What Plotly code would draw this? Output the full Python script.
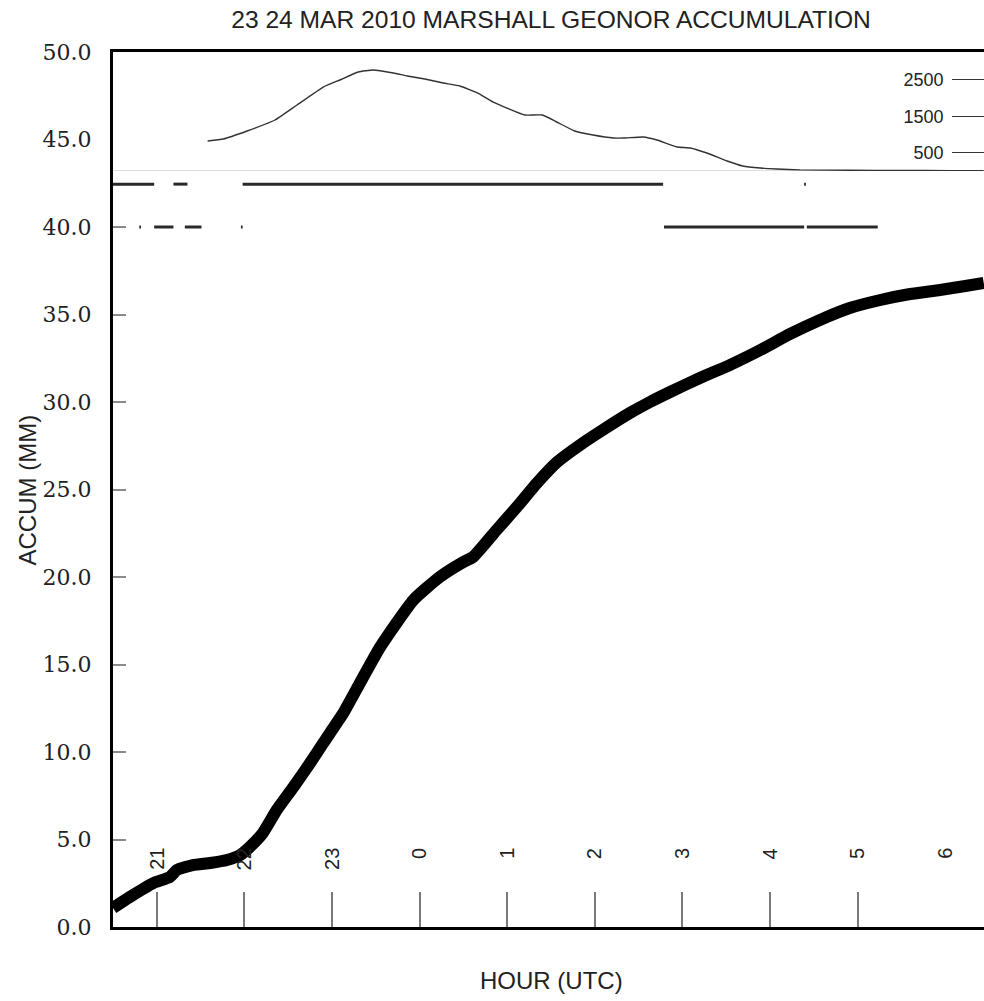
import plotly.graph_objects as go

# ---- data (hours are continuous: 24 = 0 UTC on 24 Mar) ----
accum_hours = [20.50, 20.69, 20.96, 21.15, 21.23, 21.41, 21.61, 21.80, 21.95, 22.06,
               22.21, 22.37, 22.56, 22.75, 22.90, 23.13, 23.21, 23.55, 23.93, 24.23,
               24.50, 24.61, 24.88, 25.11, 25.34, 25.57, 25.83, 26.09, 26.40, 26.63,
               26.86, 27.20, 27.54, 27.89, 28.23, 28.57, 28.91, 29.26, 29.60, 29.94,
               30.23, 30.44]
accum_mm = [1.09, 1.71, 2.51, 2.86, 3.26, 3.54, 3.66, 3.83, 4.11, 4.57,
            5.37, 6.69, 8.00, 9.37, 10.51, 12.23, 12.95, 16.00, 18.69, 20.00,
            20.86, 21.14, 22.69, 24.00, 25.37, 26.57, 27.54, 28.40, 29.37, 30.00,
            30.57, 31.37, 32.11, 32.97, 33.89, 34.69, 35.37, 35.83, 36.17, 36.40,
            36.63, 36.80]

top_hours = [21.58, 21.76, 22.03, 22.35, 22.60, 22.90, 23.09, 23.30, 23.47, 23.70,
             23.86, 24.06, 24.27, 24.46, 24.66, 24.84, 25.20, 25.40, 25.77, 25.98,
             26.21, 26.34, 26.55, 26.71, 26.94, 27.09, 27.28, 27.51, 27.69, 27.89,
             28.08, 28.34, 28.91, 29.48, 30.06, 30.44]
top_vals = [824, 879, 1099, 1401, 1813, 2307, 2500, 2720, 2774, 2692,
            2610, 2527, 2417, 2335, 2143, 1895, 1538, 1538, 1099, 989,
            907, 907, 934, 852, 659, 632, 494, 275, 137, 82,
            55, 30, 20, 15, 10, 10]

# indicator rows (start, end) in hours
row1_level = 42.45
row1_segments = [(20.50, 20.97), (21.19, 21.35), (21.98, 26.78), (28.39, 28.41)]
row2_level = 40.0
row2_segments = [(20.80, 20.82), (20.97, 21.19), (21.32, 21.51), (21.96, 21.98),
                 (26.79, 28.39), (28.42, 29.23)]

hour_ticks = [21, 22, 23, 24, 25, 26, 27, 28, 29, 30]
hour_labels = ['21', '22', '23', '0', '1', '2', '3', '4', '5', '6']
y_ticks = [0, 5, 10, 15, 20, 25, 30, 35, 40, 45, 50]
top_ticks = [500, 1500, 2500]
top_labels = ['500', '1500', '2500']

x_range = [20.5, 30.443]
y_range = [0, 50]
top_range = [0, 3269]

fig = go.Figure()

# separator (zero of the upper scale)
fig.add_trace(go.Scatter(x=x_range, y=[0, 0], yaxis='y2', mode='lines',
                         line=dict(color='#bdbdbd', width=1), hoverinfo='skip'))
# upper curve
fig.add_trace(go.Scatter(x=top_hours, y=top_vals, yaxis='y2', mode='lines',
                         line=dict(color='#333333', width=1.4, shape='spline', smoothing=0.4)))


def seg_xy(segs, level):
    xs, ys = [], []
    for a, b in segs:
        xs += [a, b, None]
        ys += [level, level, None]
    return xs, ys


for segs, lvl in [(row1_segments, row1_level), (row2_segments, row2_level)]:
    xs, ys = seg_xy(segs, lvl)
    fig.add_trace(go.Scatter(x=xs, y=ys, mode='lines',
                             line=dict(color='#2a2a2a', width=3)))

# accumulation curve
fig.add_trace(go.Scatter(x=accum_hours, y=accum_mm, mode='lines',
                         line=dict(color='black', width=12, shape='spline', smoothing=0.5)))

annotations = []
for h, lab in zip(hour_ticks, hour_labels):
    annotations.append(dict(x=h, y=4.63, xref='x', yref='y', text=lab, showarrow=False,
                            textangle=-90, xanchor='center', yanchor='top',
                            font=dict(family='Liberation Sans, Arial, sans-serif', size=20, color='#222')))
annotations.append(dict(x=0.503, y=-0.0617, xref='paper', yref='paper', text='HOUR (UTC)',
                        showarrow=False, xanchor='center', yanchor='middle',
                        font=dict(family='Liberation Sans, Arial, sans-serif', size=24, color='#222')))
annotations.append(dict(x=-0.0976, y=0.5, xref='paper', yref='paper', text='ACCUM (MM)',
                        showarrow=False, textangle=-90, xanchor='center', yanchor='middle',
                        font=dict(family='Liberation Sans, Arial, sans-serif', size=24, color='#222')))

fig.update_layout(
    width=984, height=1001,
    margin=dict(l=113, r=0, t=52, b=74),
    paper_bgcolor='white', plot_bgcolor='white',
    showlegend=False,
    title=dict(text='23 24 MAR 2010 MARSHALL GEONOR ACCUMULATION',
               x=0.56, xref='container', xanchor='center',
               y=1 - 19 / 1001, yref='container', yanchor='middle',
               font=dict(family='Liberation Sans, Arial, sans-serif', size=24.6, color='#222')),
    xaxis=dict(range=x_range, showgrid=False, zeroline=False,
               showline=True, linecolor='black', linewidth=3, mirror=True,
               ticks='inside', ticklen=35, tickwidth=1.5, tickcolor='#7a7a7a',
               tickvals=hour_ticks, showticklabels=False),
    yaxis=dict(range=y_range, domain=[0, 1], showgrid=False, zeroline=False,
               showline=True, linecolor='black', linewidth=3,
               ticks='inside', ticklen=13, tickwidth=1.5, tickcolor='#8a8a8a',
               tickvals=y_ticks, tickformat='.1f', ticklabelstandoff=14,
               tickfont=dict(family='DejaVu Serif, serif', size=22, color='#222')),
    yaxis2=dict(domain=[0.864, 1.0], range=top_range, anchor='x',
                side='right', showgrid=False, zeroline=False, showline=False,
                ticks='inside', ticklen=32, tickwidth=1.2, tickcolor='#333',
                tickvals=top_ticks, ticktext=top_labels, ticklabelposition='inside',
                ticklabelstandoff=9,
                tickfont=dict(family='Liberation Sans, Arial, sans-serif', size=18, color='#222')),
    annotations=annotations,
)

fig.write_html('out.html')
